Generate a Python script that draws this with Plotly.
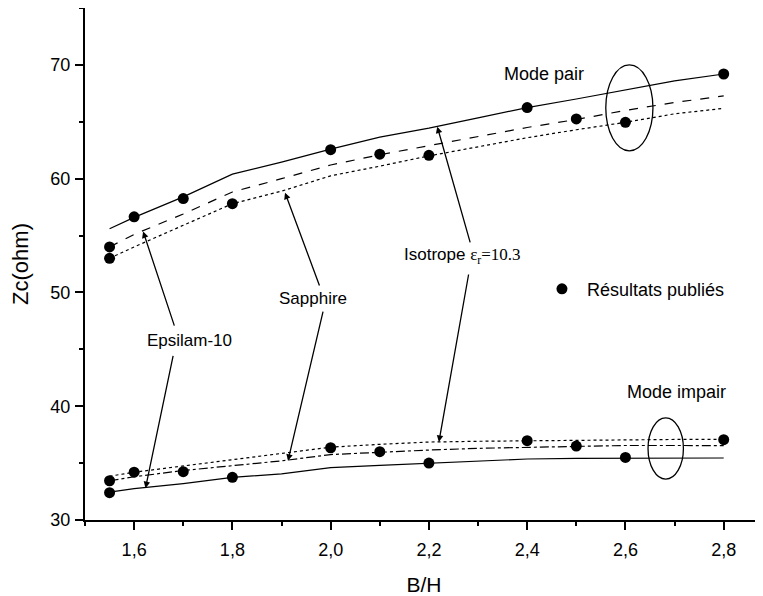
import plotly.graph_objects as go

# ---- data ----
x_theory = [1.55, 1.6, 1.7, 1.8, 1.9, 2.0, 2.1, 2.2, 2.3, 2.4, 2.5, 2.6, 2.7, 2.8]

# Mode pair (even mode)
pair_isotrope = [55.6, 56.6, 58.4, 60.4, 61.45, 62.6, 63.65, 64.45, 65.35, 66.25, 67.0, 67.8, 68.6, 69.2]
pair_epsilam = [54.0, 55.1, 56.9, 58.83, 60.0, 61.2, 62.1, 62.9, 63.7, 64.5, 65.2, 66.0, 66.7, 67.27]
pair_sapphire = [53.0, 54.0, 55.9, 57.8, 58.9, 60.25, 61.1, 62.0, 62.8, 63.6, 64.3, 64.95, 65.7, 66.18]

# Mode impair (odd mode)
impair_isotrope = [33.85, 34.2, 34.75, 35.3, 35.8, 36.4, 36.65, 36.85, 36.92, 36.97, 37.03, 37.07, 37.08, 37.08]
impair_sapphire = [33.45, 33.8, 34.35, 34.8, 35.2, 35.75, 35.97, 36.15, 36.3, 36.4, 36.5, 36.55, 36.55, 36.53]
impair_epsilam = [32.45, 32.75, 33.2, 33.74, 34.06, 34.6, 34.8, 35.0, 35.2, 35.36, 35.42, 35.45, 35.45, 35.45]

# Published results
x_pub = [1.55, 1.55, 1.6, 1.7, 1.8, 2.0, 2.1, 2.2, 2.4, 2.5, 2.6, 2.8]
pub_pair = [54.0, 53.0, 56.65, 58.25, 57.8, 62.55, 62.15, 62.05, 66.25, 65.25, 64.95, 69.2]
pub_impair = [33.45, 32.4, 34.2, 34.25, 33.75, 36.35, 36.0, 35.0, 36.97, 36.5, 35.5, 37.06]

FONT = "Liberation Sans, Arial, sans-serif"

fig = go.Figure()

def line(y, dash):
    fig.add_trace(go.Scatter(x=x_theory, y=y, mode="lines",
                             line=dict(color="black", width=1.2, dash=dash),
                             showlegend=False, hoverinfo="skip"))

line(pair_isotrope, "solid")
line(pair_epsilam, "dash")
line(pair_sapphire, "dot")
line(impair_isotrope, "dot")
line(impair_sapphire, "dashdot")
line(impair_epsilam, "solid")

fig.add_trace(go.Scatter(x=x_pub, y=pub_pair, mode="markers",
                         marker=dict(color="black", size=11),
                         name="Résultats publiés", showlegend=True))
fig.add_trace(go.Scatter(x=x_pub, y=pub_impair, mode="markers",
                         marker=dict(color="black", size=11),
                         name="Résultats publiés", showlegend=False))

# ellipses around the curve groups
fig.add_shape(type="circle", xref="x", yref="y", x0=2.56, x1=2.656, y0=62.45, y1=70.0,
              line=dict(color="black", width=1.3))
fig.add_shape(type="circle", xref="x", yref="y", x0=2.646, x1=2.718, y0=33.59, y1=38.98,
              line=dict(color="black", width=1.3))

# arrows (tail -> tip)
arrows = [
    ((1.6828, 46.95), (1.6183, 55.36)),
    ((1.680, 44.56), (1.6232, 32.80)),
    ((1.9783, 50.48), (1.9071, 58.77)),
    ((1.9852, 48.45), (1.9132, 35.21)),
    ((2.2848, 54.27), (2.2170, 64.57)),
    ((2.2813, 51.71), (2.2203, 36.86)),
]
for (tx, ty), (hx, hy) in arrows:
    fig.add_annotation(x=hx, y=hy, ax=tx, ay=ty, xref="x", yref="y", axref="x", ayref="y",
                       text="", showarrow=True, arrowhead=2, arrowsize=1, arrowwidth=1.3,
                       arrowcolor="black", standoff=0, startstandoff=0)

def label(x, y, text, size=17, xanchor="center"):
    fig.add_annotation(x=x, y=y, xref="x", yref="y", text=text, showarrow=False,
                       xanchor=xanchor, yanchor="middle",
                       font=dict(family=FONT, size=size, color="black"))

label(2.4347, 69.19, "Mode pair", 18)
label(2.7037, 41.21, "Mode impair", 18)
label(1.9640, 49.48, "Sapphire", 17)
label(1.7119, 45.74, "Epsilam-10", 17)
label(2.1459, 53.24,
      'Isotrope <span style="font-family:Liberation Serif, Times New Roman, serif">ε<sub>r</sub>=10.3</span>',
      17, xanchor="left")

axis_common = dict(showline=True, linecolor="black", linewidth=2, ticks="outside",
                   tickcolor="black", tickwidth=2, showgrid=False, zeroline=False,
                   automargin=False,
                   tickfont=dict(family=FONT, size=18, color="black"))

fig.update_xaxes(range=[1.5, 2.88], tick0=1.6, dtick=0.2, tickformat=".1f", ticklen=8,
                 mirror=True, ticklabelstandoff=4,
                 minor=dict(dtick=0.1, ticks="outside", ticklen=4,
                            tickcolor="black", tickwidth=2),
                 title=dict(text="B/H", font=dict(family=FONT, size=21, color="black"), standoff=22),
                 **axis_common)
fig.update_yaxes(range=[30, 75], tick0=30, dtick=10, ticklen=8, ticklabelstandoff=1,
                 minor=dict(dtick=5, ticks="outside", ticklen=4, tickcolor="black", tickwidth=2),
                 title=dict(text="Zc(ohm)", font=dict(family=FONT, size=22, color="black"), standoff=20),
                 **axis_common)

# the page adds an 8px body margin, so the figure is offset by 8px
fig.update_layout(
    width=755, height=588,
    margin=dict(l=77, r=0, t=0, b=76),
    paper_bgcolor="white", plot_bgcolor="white",
    separators=", ",
    showlegend=True,
    legend=dict(x=0.6666, y=0.451, xanchor="left", yanchor="middle", itemwidth=40,
                bgcolor="rgba(0,0,0,0)", borderwidth=0,
                font=dict(family=FONT, size=18, color="black")),
    hovermode=False,
)

fig.write_html("out.html")
